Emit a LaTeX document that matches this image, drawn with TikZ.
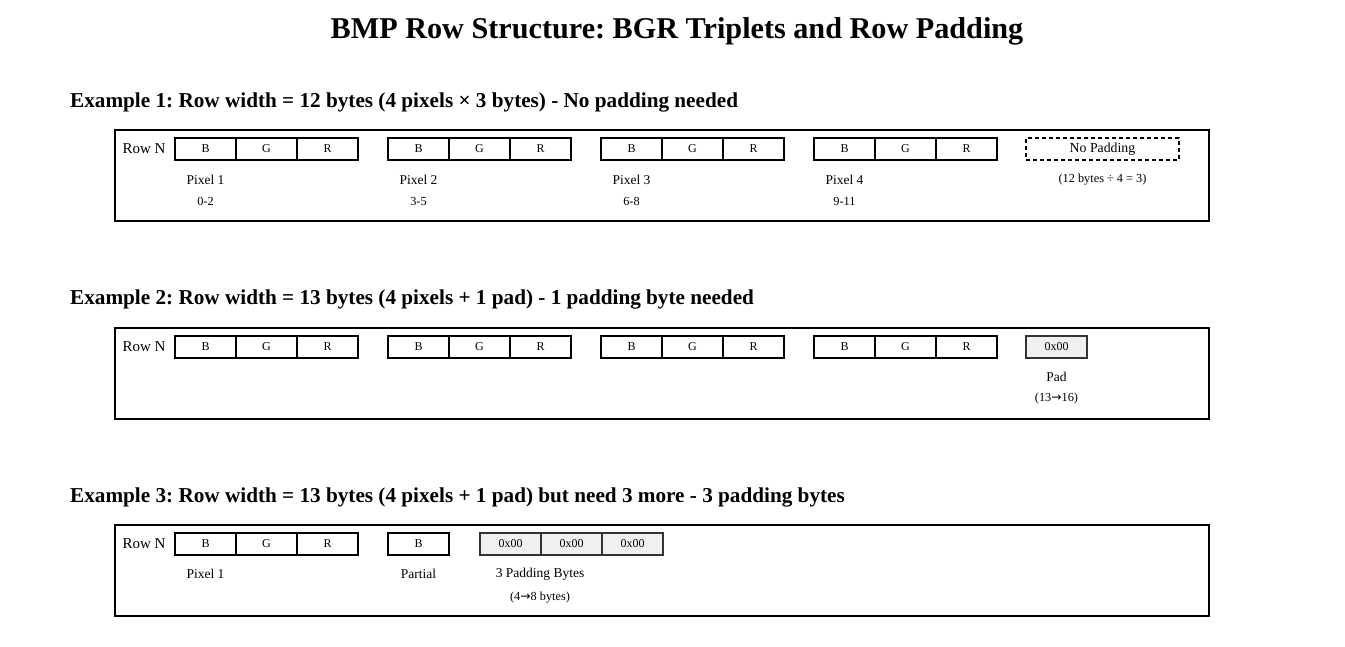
\documentclass[tikz,border=0pt]{standalone}
\usepackage{fontspec}
\setmainfont{Liberation Serif}
\newfontfamily\arrowfont{DejaVu Sans}
\usetikzlibrary{positioning}
\definecolor{padgray}{HTML}{F0F0F0}
\newcommand{\rarr}{{\arrowfont →}}
\frenchspacing

\begin{document}
\begin{tikzpicture}[x=1pt,y=-1pt,
  cell/.style={draw, line width=1.3pt, minimum width=61pt, minimum height=22pt,
    inner sep=0pt, outer sep=0pt, font=\fontsize{12}{14}\selectfont},
  padcell/.style={cell, fill=padgray, draw=black!80},
  rowbox/.style={draw, line width=2pt},
  heading/.style={font=\fontsize{21.2}{24}\selectfont\bfseries, anchor=west, inner sep=0pt},
  rowlbl/.style={font=\fontsize{15}{17}\selectfont},
  lbl/.style={font=\fontsize{13.5}{15}\selectfont},
  sub/.style={font=\fontsize{12.3}{14}\selectfont}]
\useasboundingbox (0,0) rectangle (1345,647);

\node[font=\fontsize{30.2}{34}\selectfont\bfseries] (title) at (677,31) {BMP Row Structure: BGR Triplets and Row Padding};

% Example 1
\node[heading] (h1) at (70,102) {Example 1: Row width = 12 bytes (4 pixels \texttimes\ 3 bytes) - No padding needed};
\draw[rowbox] (115,130) rectangle (1209,221);
\node[rowlbl] (rowa) at (144,149) {Row N};
\foreach \p/\x/\r in {1/175/0-2, 2/388/3-5, 3/601/6-8, 4/814/9-11} {
    \node[cell] (a\p b) at (\x+30.5,149) {B};
    \node[cell, right=0pt of a\p b] (a\p g) {G};
    \node[cell, right=0pt of a\p g] (a\p r) {R};
    \node[lbl] (a\p lab) at (\x+30.5,180) {Pixel \p};
    \node[sub] (a\p rng) at (\x+30.5,201) {\r};
}
\node[cell, dash pattern=on 4pt off 3pt, minimum width=153pt, font=\fontsize{13.8}{15}\selectfont] (nopad) at (1102.5,149) {No Padding};
\node[sub] (nopadnote) at (1102.5,180) {(12 bytes ÷ 4 = 3)};

% Example 2
\node[heading] (h2) at (70,299) {Example 2: Row width = 13 bytes (4 pixels + 1 pad) - 1 padding byte needed};
\draw[rowbox] (115,328) rectangle (1209,419);
\node[rowlbl] (rowb) at (144,347) {Row N};
\foreach \p/\x in {1/175, 2/388, 3/601, 4/814} {
    \node[cell] (b\p b) at (\x+30.5,347) {B};
    \node[cell, right=0pt of b\p b] (b\p g) {G};
    \node[cell, right=0pt of b\p g] (b\p r) {R};
}
\node[padcell] (bpad) at (1056.5,347) {0x00};
\node[lbl] (bpadlab) at (1056.5,377) {Pad};
\node[sub] (bpadnote) at (1056.5,399) {(13\rarr16)};

% Example 3
\node[heading] (h3) at (70,497) {Example 3: Row width = 13 bytes (4 pixels + 1 pad) but need 3 more - 3 padding bytes};
\draw[rowbox] (115,525) rectangle (1209,616);
\node[rowlbl] (rowc) at (144,544) {Row N};
\node[cell] (c1b) at (205.5,544) {B};
\node[cell, right=0pt of c1b] (c1g) {G};
\node[cell, right=0pt of c1g] (c1r) {R};
\node[lbl] (c1lab) at (205.5,574) {Pixel 1};
\node[cell] (cpart) at (418.5,544) {B};
\node[lbl] (cpartlab) at (418.5,574) {Partial};
\node[padcell] (cpad1) at (510.5,544) {0x00};
\node[padcell, right=0pt of cpad1] (cpad2) {0x00};
\node[padcell, right=0pt of cpad2] (cpad3) {0x00};
\node[lbl] (cpadlab) at (540,574) {3 Padding Bytes};
\node[sub] (cpadnote) at (540,598) {(4\rarr8 bytes)};
\end{tikzpicture}
\end{document}
